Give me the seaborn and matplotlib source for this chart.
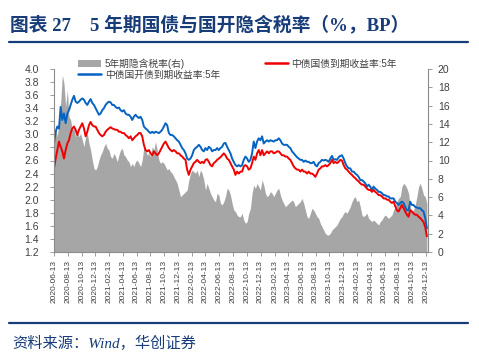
import numpy as np
import pandas as pd
import matplotlib
matplotlib.use("Agg")
import matplotlib.pyplot as plt
from matplotlib.patches import Patch
from matplotlib.lines import Line2D
import seaborn as sns

# ---------------- data ----------------
start_date = "2020-06-13"
end_date = "2024-12-17"

# 中债国开债到期收益率:5年 (%)
cdb_5y = [
    2.86, 3.04, 3.12, 3.09, 3.42, 3.22, 3.32, 3.17, 3.32, 3.37,
    3.45, 3.53, 3.59, 3.50, 3.48, 3.50, 3.53, 3.55, 3.53, 3.48,
    3.45, 3.50, 3.54, 3.48, 3.45, 3.40, 3.35, 3.30, 3.32, 3.37,
    3.40, 3.45, 3.48, 3.50, 3.49, 3.45, 3.45, 3.42, 3.40, 3.41,
    3.37, 3.35, 3.37, 3.32, 3.30, 3.30, 3.27, 3.22, 3.27, 3.30,
    3.27, 3.25, 3.27, 3.22, 3.12, 3.09, 3.07, 3.04, 3.02, 3.04,
    3.02, 3.04, 3.03, 3.02, 3.04, 3.07, 3.12, 3.17, 3.14, 3.02,
    2.99, 2.99, 2.97, 2.94, 2.91, 2.89, 2.84, 2.79, 2.76, 2.71,
    2.63, 2.61, 2.63, 2.68, 2.76, 2.79, 2.81, 2.84, 2.81, 2.76,
    2.74, 2.79, 2.76, 2.81, 2.79, 2.74, 2.76, 2.76, 2.79, 2.76,
    2.79, 2.81, 2.86, 2.87, 2.81, 2.76, 2.71, 2.63, 2.58, 2.53,
    2.51, 2.53, 2.51,
    2.53, 2.61, 2.66, 2.63, 2.58, 2.61, 2.71, 2.89, 2.79, 2.89,
    2.94, 2.91, 2.97, 2.86, 2.89, 2.91, 2.89, 2.91, 2.90, 2.89,
    2.91, 2.91, 2.94, 2.91, 2.86, 2.84, 2.84, 2.84, 2.81, 2.79,
    2.74, 2.71, 2.68, 2.65, 2.63, 2.61, 2.61, 2.58, 2.60, 2.58,
    2.58, 2.56, 2.56, 2.58, 2.53, 2.51, 2.56, 2.58, 2.61, 2.60,
    2.61, 2.60, 2.58, 2.63, 2.67, 2.61, 2.62, 2.61, 2.65, 2.67,
    2.68, 2.63, 2.56, 2.51, 2.48, 2.48, 2.43, 2.43, 2.40, 2.38,
    2.35, 2.30, 2.30, 2.28, 2.25, 2.20, 2.23, 2.20, 2.15, 2.20,
    2.17, 2.15, 2.12, 2.12, 2.10, 2.07, 2.07, 2.05, 2.05, 2.02,
    2.02, 2.02, 1.97, 1.95, 1.92, 1.95, 1.97, 1.95, 1.89, 1.84,
    1.84, 1.97, 1.92, 1.92, 1.89, 1.88, 1.87, 1.87, 1.84, 1.82,
    1.72, 1.56,
]

# 中债国债到期收益率:5年 (%)
cgb_5y = [
    2.48, 2.63, 2.76, 2.89, 2.81, 2.74, 2.63, 2.76, 2.86, 2.91,
    3.02, 3.09, 3.12, 3.07, 2.99, 3.07, 3.12, 3.17, 3.09, 2.97,
    3.04, 3.14, 3.19, 3.14, 3.12, 3.12, 3.07, 3.02, 2.99, 2.97,
    2.99, 3.04, 3.07, 3.09, 3.11, 3.09, 3.08, 3.07, 3.07, 3.04,
    3.04, 3.02, 3.02, 2.99, 2.97, 2.94, 2.97, 2.91, 2.94, 2.97,
    2.99, 3.02, 3.02, 2.97, 2.84, 2.76, 2.74, 2.76, 2.71, 2.68,
    2.74, 2.71, 2.68, 2.71, 2.76, 2.81, 2.86, 2.89, 2.84, 2.79,
    2.76, 2.74, 2.76, 2.74, 2.71, 2.71, 2.68, 2.66, 2.63, 2.61,
    2.46, 2.38, 2.46, 2.51, 2.56, 2.58, 2.61, 2.58, 2.56, 2.58,
    2.56, 2.61, 2.62, 2.58, 2.53, 2.51, 2.56, 2.58, 2.61, 2.63,
    2.65, 2.68, 2.71, 2.68, 2.63, 2.61, 2.56, 2.51, 2.46, 2.38,
    2.43, 2.40, 2.43,
    2.43, 2.51, 2.53, 2.51, 2.46, 2.48, 2.56, 2.66, 2.61, 2.71,
    2.76, 2.68, 2.76, 2.68, 2.71, 2.74, 2.71, 2.74, 2.74, 2.71,
    2.72, 2.74, 2.74, 2.71, 2.68, 2.68, 2.66, 2.66, 2.63, 2.61,
    2.56, 2.51, 2.48, 2.46, 2.46, 2.43, 2.46, 2.43, 2.43, 2.40,
    2.43, 2.40, 2.40, 2.38, 2.35, 2.40, 2.46, 2.48, 2.51, 2.51,
    2.53, 2.51, 2.53, 2.56, 2.61, 2.56, 2.58, 2.56, 2.58, 2.61,
    2.60, 2.53, 2.48, 2.46, 2.43, 2.40, 2.38, 2.35, 2.33, 2.30,
    2.28, 2.25, 2.23, 2.23, 2.20, 2.17, 2.15, 2.15, 2.12, 2.15,
    2.12, 2.10, 2.07, 2.07, 2.05, 2.02, 2.02, 2.00, 2.00, 1.97,
    1.95, 1.97, 1.90, 1.84, 1.82, 1.87, 1.92, 1.87, 1.82, 1.77,
    1.74, 1.84, 1.82, 1.79, 1.77, 1.77, 1.74, 1.72, 1.69, 1.66,
    1.58, 1.44,
]

# 5年期隐含税率 (右轴, %)
tax_rate = [
    11.51, 13.52, 12.60, 14.43, 16.25, 19.34, 18.43, 15.88, 17.70, 14.79,
    14.43, 13.33, 13.52, 12.60, 13.15, 12.60, 12.97, 12.24, 11.51, 12.60,
    12.97, 11.88, 11.15, 10.05, 9.14, 8.96, 9.33, 10.05, 10.60, 10.97,
    11.51, 11.88, 11.33, 11.15, 10.42, 10.24, 10.78, 10.42, 9.87, 10.60,
    11.15, 11.33, 10.60, 10.42, 10.05, 9.87, 9.33, 9.69, 9.33, 9.87,
    10.05, 9.69, 9.33, 10.05, 11.51, 11.15, 10.60, 10.78, 10.42, 11.51,
    11.15, 12.06, 11.15, 10.05, 9.69, 9.87, 9.69, 9.33, 8.96, 9.14,
    8.78, 8.60, 8.23, 7.87, 7.50, 6.78, 6.05, 6.23, 6.41, 6.59,
    6.78, 7.87, 8.60, 8.96, 8.78, 8.60, 8.96, 8.23, 8.96, 8.60,
    7.87, 6.78, 7.50, 6.96, 6.41, 6.05, 5.68, 5.50, 6.41, 6.23,
    5.32, 5.14, 5.50, 6.05, 6.96, 6.78, 6.23, 5.32, 4.59, 4.41,
    4.04, 3.86, 3.86,
    4.23, 3.50, 3.13, 3.32, 4.23, 4.77, 6.41, 7.32, 6.96, 7.50,
    7.14, 6.78, 7.87, 7.32, 6.41, 6.05, 6.23, 6.59, 6.41, 6.05,
    6.41, 6.78, 6.96, 6.23, 5.68, 5.32, 4.95, 5.14, 5.32, 5.50,
    5.68, 5.50, 4.95, 5.14, 5.32, 5.50, 5.87, 5.32, 4.59, 3.86,
    3.68, 4.23, 4.77, 4.59, 4.23, 3.86, 3.68, 3.13, 2.77, 2.40,
    2.04, 1.86, 1.86, 2.04, 2.40, 2.59, 2.77, 2.95, 3.32, 3.68,
    3.86, 4.23, 4.41, 4.23, 4.59, 4.95, 5.50, 5.87, 6.05, 5.50,
    5.68, 4.95, 4.04, 3.86, 4.04, 4.23, 3.68, 3.50, 3.32, 3.50,
    3.32, 3.13, 2.95, 3.32, 3.50, 3.86, 4.04, 3.86, 3.68, 3.86,
    4.04, 4.59, 4.95, 5.50, 5.87, 6.05, 7.14, 7.50, 7.32, 6.96,
    6.41, 4.95, 4.41, 4.59, 5.14, 6.05, 7.14, 7.50, 6.96, 6.23,
    6.05, 5.32,
]

label_tax = "5年期隐含税率(右)"
label_cdb = "中债国开债到期收益率:5年"
label_cgb = "中债国债到期收益率:5年"
title_text = "图表 27    5 年期国债与国开隐含税率（%，BP）"
source_text = "资料来源：Wind，华创证券"

tick_start = "2020-06-13"
tick_end = "2024-12-13"

# ---------------- figure ----------------
dates = pd.date_range(start_date, end_date, periods=len(cdb_5y))
df = pd.DataFrame({"date": dates, "cdb": cdb_5y, "cgb": cgb_5y, "tax": tax_rate})

sns.set_theme(style="white")
plt.rcParams["font.family"] = ["Liberation Sans", "Noto Sans CJK SC", "DejaVu Sans"]

navy = "#173C78"
fig = plt.figure(figsize=(4.79, 3.58), dpi=100)
ax = fig.add_axes([54 / 479, 1 - 252 / 358, 374 / 479, 183 / 358])
ax2 = ax.twinx()

ax2.fill_between(df["date"], 0, df["tax"], color="#A6A6A6", lw=0)
sns.lineplot(data=df, x="date", y="cdb", ax=ax, color="#0563C1", lw=1.4, legend=False)
sns.lineplot(data=df, x="date", y="cgb", ax=ax, color="#F00000", lw=1.4, legend=False)

ax.set_zorder(ax2.get_zorder() + 1)
ax.patch.set_visible(False)

ax.set_xlim(pd.Timestamp("2020-06-13"), pd.Timestamp("2024-12-22"))
ax.set_ylim(1.2, 4.0)
ax2.set_ylim(0, 20)

yt = np.round(np.arange(1.2, 4.01, 0.2), 1)
ax.set_yticks(yt)
ax.set_yticklabels([f"{v:.1f}" for v in yt])
ax2.set_yticks(range(0, 21, 2))

xt = pd.date_range(tick_start, tick_end, freq=pd.DateOffset(months=2))
ax.set_xticks(xt)
ax.set_xticklabels([d.strftime("%Y-%m-%d") for d in xt], rotation=90)

ax.set_xlabel("")
ax.set_ylabel("")
ax2.set_ylabel("")

spine_c = "#8C8C8C"
for a in (ax, ax2):
    a.spines["top"].set_visible(False)
    for s in a.spines.values():
        s.set_color(spine_c)
        s.set_linewidth(0.8)
ax.spines["right"].set_visible(False)
ax2.spines["left"].set_visible(False)
ax2.spines["bottom"].set_visible(False)

lab_c = "#404040"
ax.tick_params(axis="y", left=True, length=3, width=0.6, color=spine_c,
               labelsize=7.5, labelcolor=lab_c, pad=8)
ax.tick_params(axis="x", bottom=True, length=3, width=0.6, color=spine_c,
               labelsize=6, labelcolor=lab_c, pad=3)
ax2.tick_params(axis="y", right=True, length=3, width=0.6, color=spine_c,
                labelsize=7.5, labelcolor=lab_c, pad=4)
ax.grid(False)
ax2.grid(False)

handles = [Patch(facecolor="#A6A6A6", edgecolor="none"),
           Line2D([], [], color="#0563C1", lw=1.8),
           Line2D([], [], color="#F00000", lw=1.8)]
leg = ax.legend(handles, [label_tax, label_cdb, label_cgb], ncol=2,
                loc="upper left", bbox_to_anchor=(0.064, 1.06),
                frameon=False, fontsize=7, handlelength=2.4, handletextpad=0.35,
                columnspacing=4.6, labelspacing=0.1, borderpad=0, borderaxespad=0)
for t in leg.get_texts():
    t.set_color(lab_c)

fig.text(10 / 479, 1 - 25 / 358, title_text, fontsize=13.5, fontweight="bold",
         color=navy, va="center", ha="left",
         family=["Liberation Serif", "Noto Sans CJK SC"])
fig.add_artist(Line2D([9 / 479, 468 / 479], [1 - 41.7 / 358] * 2,
                      color=navy, lw=1.6))
fig.add_artist(Line2D([9 / 479, 468 / 479], [1 - 323.3 / 358] * 2,
                      color=navy, lw=1.6))
fig.text(12 / 479, 1 - 343 / 358, source_text, fontsize=11, style="italic",
         color=navy, va="center", ha="left",
         family=["Liberation Serif", "Noto Sans CJK SC"])

fig.savefig("out.png", dpi=100)
